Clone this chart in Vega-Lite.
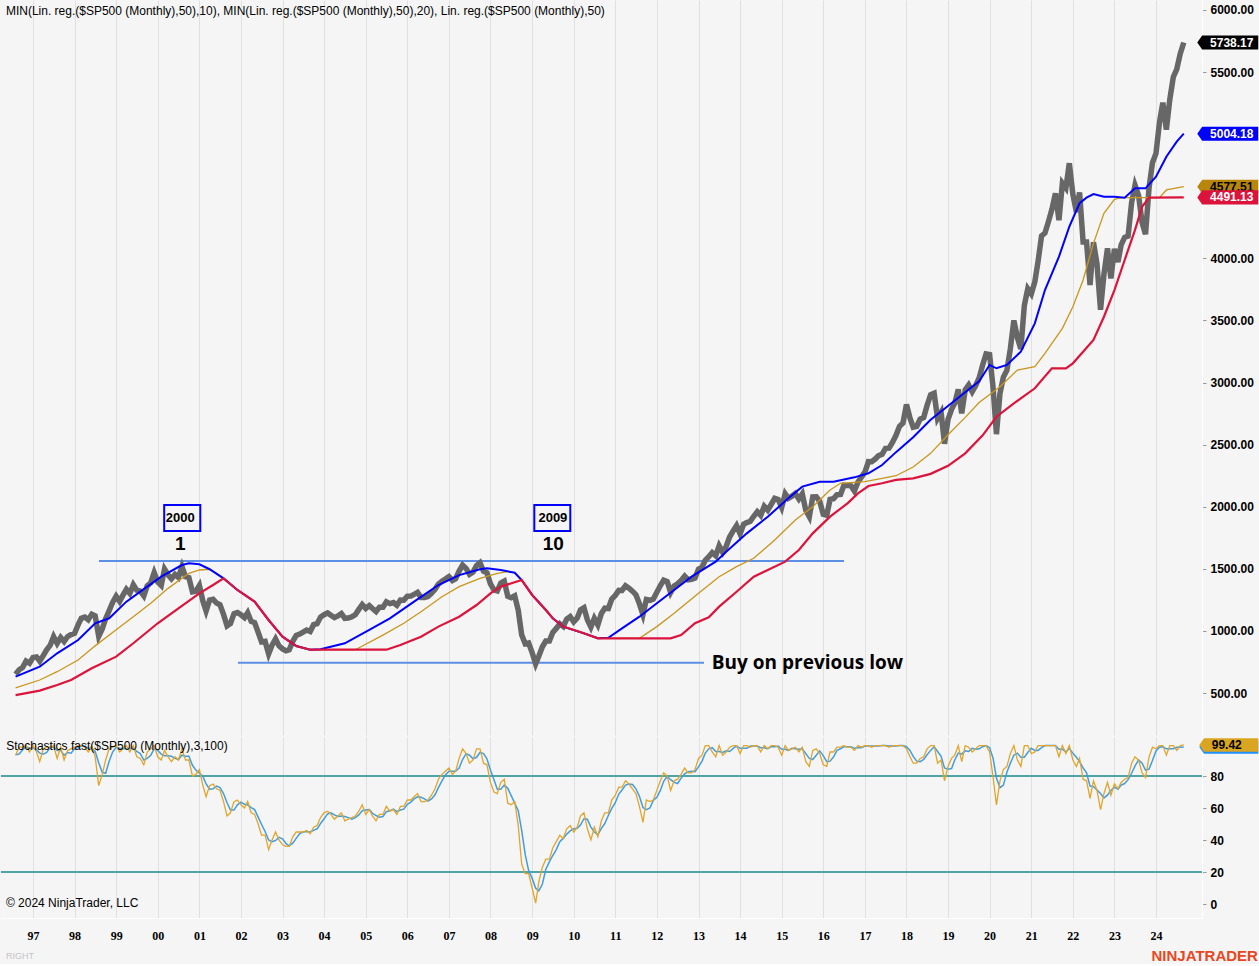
{
"$schema":"https://vega.github.io/schema/vega-lite/v6.json",
"background":"#f5f5f5",
"padding":0,
"spacing":2,
"config":{"view":{"stroke":null},"font":"Liberation Sans","axis":{"labelFont":"Liberation Sans"}},
"datasets":{
"m":[
{"d":"1996-08-01","p":651.99,"k":93,"s":93.3},{"d":"1996-09-01","p":687.33,"k":98,"s":93.7},{"d":"1996-10-01","p":705.27,"k":98,"s":96.3},{"d":"1996-11-01","p":757.02,"k":99,"s":98.3},{"d":"1996-12-01","p":740.74,"k":95,"s":97.3},
{"d":"1997-01-01","p":786.16,"k":99,"s":97.7},{"d":"1997-02-01","p":790.82,"k":95,"s":96.3},{"d":"1997-03-01","p":757.12,"k":89,"s":94.3},{"d":"1997-04-01","p":801.34,"k":97,"s":93.7},{"d":"1997-05-01","p":848.28,"k":98,"s":94.7},{"d":"1997-06-01","p":885.14,"k":98,"s":97.7},{"d":"1997-07-01","p":954.29,"k":99,"s":98.3},{"d":"1997-08-01","p":899.47,"k":91,"s":96},{"d":"1997-09-01","p":947.28,"k":98,"s":96},{"d":"1997-10-01","p":914.62,"k":90,"s":93},{"d":"1997-11-01","p":955.4,"k":96,"s":94.7},{"d":"1997-12-01","p":970.43,"k":97,"s":94.3},
{"d":"1998-01-01","p":980.28,"k":98,"s":97},{"d":"1998-02-01","p":1049.34,"k":99,"s":98},{"d":"1998-03-01","p":1101.75,"k":99,"s":98.7},{"d":"1998-04-01","p":1111.75,"k":98,"s":98.7},{"d":"1998-05-01","p":1090.82,"k":95,"s":97.3},{"d":"1998-06-01","p":1133.84,"k":99,"s":97.3},{"d":"1998-07-01","p":1120.67,"k":92,"s":95.3},{"d":"1998-08-01","p":957.28,"k":74,"s":88.3},{"d":"1998-09-01","p":1017.01,"k":81,"s":82.3},{"d":"1998-10-01","p":1098.67,"k":90,"s":81.7},{"d":"1998-11-01","p":1163.63,"k":97,"s":89.3},{"d":"1998-12-01","p":1229.23,"k":98,"s":95},
{"d":"1999-01-01","p":1279.64,"k":99,"s":98},{"d":"1999-02-01","p":1238.33,"k":95,"s":97.3},{"d":"1999-03-01","p":1286.37,"k":97,"s":97},{"d":"1999-04-01","p":1335.18,"k":99,"s":97},{"d":"1999-05-01","p":1301.84,"k":95,"s":97},{"d":"1999-06-01","p":1372.71,"k":99,"s":97.7},{"d":"1999-07-01","p":1328.72,"k":92,"s":95.3},{"d":"1999-08-01","p":1320.41,"k":91,"s":94},{"d":"1999-09-01","p":1282.71,"k":87,"s":90},{"d":"1999-10-01","p":1362.93,"k":95,"s":91},{"d":"1999-11-01","p":1388.91,"k":97,"s":93},{"d":"1999-12-01","p":1469.25,"k":99,"s":97},
{"d":"2000-01-01","p":1394.46,"k":92,"s":96},{"d":"2000-02-01","p":1366.42,"k":90,"s":93.7},{"d":"2000-03-01","p":1498.58,"k":96,"s":92.7},{"d":"2000-04-01","p":1452.43,"k":92,"s":92.7},{"d":"2000-05-01","p":1420.6,"k":89,"s":92.3},{"d":"2000-06-01","p":1454.6,"k":92,"s":91},{"d":"2000-07-01","p":1430.83,"k":90,"s":90.3},{"d":"2000-08-01","p":1517.68,"k":97,"s":93},{"d":"2000-09-01","p":1436.51,"k":90,"s":92.3},{"d":"2000-10-01","p":1429.4,"k":90,"s":92.3},{"d":"2000-11-01","p":1314.95,"k":80,"s":86.7},{"d":"2000-12-01","p":1320.28,"k":81,"s":83.7},
{"d":"2001-01-01","p":1366.01,"k":84,"s":81.7},{"d":"2001-02-01","p":1239.94,"k":74,"s":79.7},{"d":"2001-03-01","p":1160.33,"k":67,"s":75},{"d":"2001-04-01","p":1249.46,"k":74,"s":71.7},{"d":"2001-05-01","p":1255.82,"k":75,"s":72},{"d":"2001-06-01","p":1224.38,"k":72,"s":73.7},{"d":"2001-07-01","p":1211.23,"k":71,"s":72.7},{"d":"2001-08-01","p":1133.58,"k":64,"s":69},{"d":"2001-09-01","p":1040.94,"k":55,"s":63.3},{"d":"2001-10-01","p":1059.78,"k":57,"s":58.7},{"d":"2001-11-01","p":1139.45,"k":64,"s":58.7},{"d":"2001-12-01","p":1148.08,"k":65,"s":62},
{"d":"2002-01-01","p":1130.2,"k":62,"s":63.7},{"d":"2002-02-01","p":1106.73,"k":60,"s":62.3},{"d":"2002-03-01","p":1147.39,"k":64,"s":62},{"d":"2002-04-01","p":1076.92,"k":57,"s":60.3},{"d":"2002-05-01","p":1067.14,"k":56,"s":59},{"d":"2002-06-01","p":989.82,"k":50,"s":54.3},{"d":"2002-07-01","p":911.62,"k":43,"s":49.7},{"d":"2002-08-01","p":916.07,"k":43,"s":45.3},{"d":"2002-09-01","p":815.28,"k":34,"s":40},{"d":"2002-10-01","p":885.76,"k":40,"s":39},{"d":"2002-11-01","p":936.31,"k":45,"s":39.7},{"d":"2002-12-01","p":879.82,"k":40,"s":41.7},
{"d":"2003-01-01","p":855.7,"k":37,"s":40.7},{"d":"2003-02-01","p":841.15,"k":36,"s":37.7},{"d":"2003-03-01","p":848.18,"k":36,"s":36.3},{"d":"2003-04-01","p":916.92,"k":42,"s":38},{"d":"2003-05-01","p":963.59,"k":45,"s":41},{"d":"2003-06-01","p":974.5,"k":45,"s":44},{"d":"2003-07-01","p":990.31,"k":45,"s":45},{"d":"2003-08-01","p":1008.01,"k":46,"s":45.3},{"d":"2003-09-01","p":995.97,"k":44,"s":45},{"d":"2003-10-01","p":1050.71,"k":48,"s":46},{"d":"2003-11-01","p":1058.2,"k":49,"s":47},{"d":"2003-12-01","p":1111.92,"k":54,"s":50.3},
{"d":"2004-01-01","p":1131.13,"k":57,"s":53.3},{"d":"2004-02-01","p":1144.94,"k":58,"s":56.3},{"d":"2004-03-01","p":1126.21,"k":56,"s":57},{"d":"2004-04-01","p":1107.3,"k":53,"s":55.7},{"d":"2004-05-01","p":1120.68,"k":55,"s":54.7},{"d":"2004-06-01","p":1140.84,"k":57,"s":55},{"d":"2004-07-01","p":1101.72,"k":52,"s":54.7},{"d":"2004-08-01","p":1104.24,"k":53,"s":54},{"d":"2004-09-01","p":1114.58,"k":54,"s":53},{"d":"2004-10-01","p":1130.2,"k":55,"s":54},{"d":"2004-11-01","p":1173.82,"k":58,"s":55.7},{"d":"2004-12-01","p":1211.92,"k":62,"s":58.3},
{"d":"2005-01-01","p":1181.27,"k":56,"s":58.7},{"d":"2005-02-01","p":1203.6,"k":59,"s":59},{"d":"2005-03-01","p":1180.59,"k":55,"s":56.7},{"d":"2005-04-01","p":1156.85,"k":52,"s":55.3},{"d":"2005-05-01","p":1191.5,"k":56,"s":54.3},{"d":"2005-06-01","p":1191.33,"k":56,"s":54.7},{"d":"2005-07-01","p":1234.18,"k":61,"s":57.7},{"d":"2005-08-01","p":1220.33,"k":58,"s":58.3},{"d":"2005-09-01","p":1228.81,"k":59,"s":59.3},{"d":"2005-10-01","p":1207.01,"k":56,"s":57.7},{"d":"2005-11-01","p":1249.48,"k":61,"s":58.7},{"d":"2005-12-01","p":1248.29,"k":61,"s":59.3},
{"d":"2006-01-01","p":1280.08,"k":65,"s":62.3},{"d":"2006-02-01","p":1280.66,"k":65,"s":63.7},{"d":"2006-03-01","p":1294.83,"k":67,"s":65.7},{"d":"2006-04-01","p":1310.61,"k":69,"s":67},{"d":"2006-05-01","p":1270.09,"k":64,"s":66.7},{"d":"2006-06-01","p":1270.2,"k":64,"s":65.7},{"d":"2006-07-01","p":1276.66,"k":65,"s":64.3},{"d":"2006-08-01","p":1303.82,"k":68,"s":65.7},{"d":"2006-09-01","p":1335.85,"k":72,"s":68.3},{"d":"2006-10-01","p":1377.94,"k":78,"s":72.7},{"d":"2006-11-01","p":1400.63,"k":81,"s":77},{"d":"2006-12-01","p":1418.3,"k":83,"s":80.7},
{"d":"2007-01-01","p":1438.24,"k":85,"s":83},{"d":"2007-02-01","p":1406.82,"k":81,"s":83},{"d":"2007-03-01","p":1420.86,"k":83,"s":83},{"d":"2007-04-01","p":1482.37,"k":91,"s":85},{"d":"2007-05-01","p":1530.62,"k":97,"s":90.3},{"d":"2007-06-01","p":1503.35,"k":94,"s":94},{"d":"2007-07-01","p":1455.27,"k":88,"s":93},{"d":"2007-08-01","p":1473.99,"k":90,"s":90.7},{"d":"2007-09-01","p":1526.75,"k":97,"s":91.7},{"d":"2007-10-01","p":1549.38,"k":97,"s":94.7},{"d":"2007-11-01","p":1481.14,"k":88,"s":94},{"d":"2007-12-01","p":1468.36,"k":87,"s":90.7},
{"d":"2008-01-01","p":1378.55,"k":76,"s":83.7},{"d":"2008-02-01","p":1330.63,"k":70,"s":77.7},{"d":"2008-03-01","p":1322.7,"k":69,"s":71.7},{"d":"2008-04-01","p":1385.59,"k":76,"s":71.7},{"d":"2008-05-01","p":1400.38,"k":78,"s":74.3},{"d":"2008-06-01","p":1280,"k":63,"s":72.3},{"d":"2008-07-01","p":1267.38,"k":62,"s":67.7},{"d":"2008-08-01","p":1282.83,"k":64,"s":63},{"d":"2008-09-01","p":1166.36,"k":49,"s":58.3},{"d":"2008-10-01","p":968.75,"k":25,"s":46},{"d":"2008-11-01","p":896.24,"k":19,"s":31},{"d":"2008-12-01","p":903.25,"k":19,"s":21},
{"d":"2009-01-01","p":825.88,"k":10,"s":16},{"d":"2009-02-01","p":735.09,"k":0.5,"s":9.8},{"d":"2009-03-01","p":797.87,"k":14,"s":8.2},{"d":"2009-04-01","p":872.81,"k":23,"s":12.5},{"d":"2009-05-01","p":919.14,"k":28,"s":21.7},{"d":"2009-06-01","p":919.32,"k":28,"s":26.3},{"d":"2009-07-01","p":987.48,"k":35,"s":30.3},{"d":"2009-08-01","p":1020.62,"k":39,"s":34},{"d":"2009-09-01","p":1057.08,"k":43,"s":39},{"d":"2009-10-01","p":1036.19,"k":41,"s":41},{"d":"2009-11-01","p":1095.63,"k":47,"s":43.7},{"d":"2009-12-01","p":1115.1,"k":49,"s":45.7},
{"d":"2010-01-01","p":1073.87,"k":45,"s":47},{"d":"2010-02-01","p":1104.49,"k":48,"s":47.3},{"d":"2010-03-01","p":1169.43,"k":55,"s":49.3},{"d":"2010-04-01","p":1186.69,"k":57,"s":53.3},{"d":"2010-05-01","p":1089.41,"k":47,"s":53},{"d":"2010-06-01","p":1030.71,"k":40,"s":48},{"d":"2010-07-01","p":1101.6,"k":48,"s":45},{"d":"2010-08-01","p":1049.33,"k":42,"s":43.3},{"d":"2010-09-01","p":1141.2,"k":52,"s":47.3},{"d":"2010-10-01","p":1183.26,"k":57,"s":50.3},{"d":"2010-11-01","p":1180.55,"k":57,"s":55.3},{"d":"2010-12-01","p":1257.64,"k":65,"s":59.7},
{"d":"2011-01-01","p":1286.12,"k":68,"s":63.3},{"d":"2011-02-01","p":1327.22,"k":73,"s":68.7},{"d":"2011-03-01","p":1325.83,"k":73,"s":71.3},{"d":"2011-04-01","p":1363.61,"k":77,"s":74.3},{"d":"2011-05-01","p":1345.2,"k":75,"s":75},{"d":"2011-06-01","p":1320.64,"k":72,"s":74.7},{"d":"2011-07-01","p":1292.28,"k":69,"s":72},{"d":"2011-08-01","p":1218.89,"k":61,"s":67.3},{"d":"2011-09-01","p":1131.42,"k":51,"s":60.3},{"d":"2011-10-01","p":1253.3,"k":65,"s":59},{"d":"2011-11-01","p":1246.96,"k":64,"s":60},{"d":"2011-12-01","p":1257.6,"k":65,"s":64.7},
{"d":"2012-01-01","p":1312.41,"k":71,"s":66.7},{"d":"2012-02-01","p":1365.68,"k":77,"s":71},{"d":"2012-03-01","p":1408.47,"k":82,"s":76.7},{"d":"2012-04-01","p":1397.91,"k":80,"s":79.7},{"d":"2012-05-01","p":1310.33,"k":71,"s":77.7},{"d":"2012-06-01","p":1362.16,"k":77,"s":76},{"d":"2012-07-01","p":1379.32,"k":78,"s":75.3},{"d":"2012-08-01","p":1406.58,"k":81,"s":78.7},{"d":"2012-09-01","p":1440.67,"k":85,"s":81.3},{"d":"2012-10-01","p":1412.16,"k":82,"s":82.7},{"d":"2012-11-01","p":1416.18,"k":82,"s":83},{"d":"2012-12-01","p":1426.19,"k":84,"s":82.7},
{"d":"2013-01-01","p":1498.11,"k":91,"s":85.7},{"d":"2013-02-01","p":1514.68,"k":93,"s":89.3},{"d":"2013-03-01","p":1569.19,"k":99,"s":94.3},{"d":"2013-04-01","p":1597.57,"k":99,"s":97},{"d":"2013-05-01","p":1630.74,"k":95,"s":97.7},{"d":"2013-06-01","p":1606.28,"k":92,"s":95.3},{"d":"2013-07-01","p":1685.73,"k":99,"s":95.3},{"d":"2013-08-01","p":1632.97,"k":93,"s":94.7},{"d":"2013-09-01","p":1681.55,"k":95,"s":95.7},{"d":"2013-10-01","p":1756.54,"k":98,"s":95.3},{"d":"2013-11-01","p":1805.81,"k":99,"s":97.3},{"d":"2013-12-01","p":1848.36,"k":99,"s":98.7},
{"d":"2014-01-01","p":1782.59,"k":94,"s":97.3},{"d":"2014-02-01","p":1859.45,"k":99,"s":97.3},{"d":"2014-03-01","p":1872.34,"k":99,"s":97.3},{"d":"2014-04-01","p":1883.95,"k":98,"s":98.7},{"d":"2014-05-01","p":1923.57,"k":99,"s":98.7},{"d":"2014-06-01","p":1960.23,"k":99,"s":98.7},{"d":"2014-07-01","p":1930.67,"k":95,"s":97.7},{"d":"2014-08-01","p":2003.37,"k":99,"s":97.7},{"d":"2014-09-01","p":1972.29,"k":97,"s":97},{"d":"2014-10-01","p":2018.05,"k":99,"s":98.3},{"d":"2014-11-01","p":2067.56,"k":99,"s":98.3},{"d":"2014-12-01","p":2058.9,"k":98,"s":98.7},
{"d":"2015-01-01","p":1994.99,"k":93,"s":96.7},{"d":"2015-02-01","p":2104.5,"k":99,"s":96.7},{"d":"2015-03-01","p":2067.89,"k":96,"s":96},{"d":"2015-04-01","p":2085.51,"k":97,"s":97.3},{"d":"2015-05-01","p":2107.39,"k":98,"s":97},{"d":"2015-06-01","p":2063.11,"k":95,"s":96.7},{"d":"2015-07-01","p":2103.84,"k":98,"s":97},{"d":"2015-08-01","p":1972.18,"k":89,"s":94},{"d":"2015-09-01","p":1920.03,"k":86,"s":91},{"d":"2015-10-01","p":2079.36,"k":96,"s":90.3},{"d":"2015-11-01","p":2080.41,"k":97,"s":93},{"d":"2015-12-01","p":2043.94,"k":94,"s":95.7},
{"d":"2016-01-01","p":1940.24,"k":87,"s":92.7},{"d":"2016-02-01","p":1932.23,"k":86,"s":89},{"d":"2016-03-01","p":2059.74,"k":95,"s":89.3},{"d":"2016-04-01","p":2065.3,"k":95,"s":92},{"d":"2016-05-01","p":2096.95,"k":98,"s":96},{"d":"2016-06-01","p":2098.86,"k":98,"s":97},{"d":"2016-07-01","p":2173.6,"k":99,"s":98.3},{"d":"2016-08-01","p":2170.95,"k":98,"s":98.3},{"d":"2016-09-01","p":2168.27,"k":98,"s":98.3},{"d":"2016-10-01","p":2126.15,"k":96,"s":97.3},{"d":"2016-11-01","p":2198.81,"k":99,"s":97.7},{"d":"2016-12-01","p":2238.83,"k":98,"s":97.7},
{"d":"2017-01-01","p":2278.87,"k":99,"s":98.7},{"d":"2017-02-01","p":2363.64,"k":99,"s":98.7},{"d":"2017-03-01","p":2362.72,"k":98,"s":98.7},{"d":"2017-04-01","p":2384.2,"k":99,"s":98.7},{"d":"2017-05-01","p":2411.8,"k":99,"s":98.7},{"d":"2017-06-01","p":2423.41,"k":99,"s":99},{"d":"2017-07-01","p":2470.3,"k":99,"s":99},{"d":"2017-08-01","p":2471.65,"k":98,"s":98.7},{"d":"2017-09-01","p":2519.36,"k":99,"s":98.7},{"d":"2017-10-01","p":2575.26,"k":99,"s":98.7},{"d":"2017-11-01","p":2647.58,"k":99,"s":99},{"d":"2017-12-01","p":2673.61,"k":99,"s":99},
{"d":"2018-01-01","p":2823.81,"k":97,"s":98.3},{"d":"2018-02-01","p":2713.83,"k":92,"s":96},{"d":"2018-03-01","p":2640.87,"k":88,"s":92.3},{"d":"2018-04-01","p":2648.05,"k":88,"s":89.3},{"d":"2018-05-01","p":2705.27,"k":91,"s":89},{"d":"2018-06-01","p":2718.37,"k":92,"s":90.3},{"d":"2018-07-01","p":2816.29,"k":97,"s":93.3},{"d":"2018-08-01","p":2901.52,"k":99,"s":96},{"d":"2018-09-01","p":2913.98,"k":99,"s":98.3},{"d":"2018-10-01","p":2711.74,"k":88,"s":95.3},{"d":"2018-11-01","p":2760.17,"k":90,"s":92.3},{"d":"2018-12-01","p":2506.85,"k":77,"s":85},
{"d":"2019-01-01","p":2704.1,"k":86,"s":84.3},{"d":"2019-02-01","p":2784.49,"k":91,"s":84.7},{"d":"2019-03-01","p":2834.4,"k":93,"s":90},{"d":"2019-04-01","p":2945.83,"k":99,"s":94.3},{"d":"2019-05-01","p":2752.06,"k":89,"s":93.7},{"d":"2019-06-01","p":2941.76,"k":99,"s":95.7},{"d":"2019-07-01","p":2980.38,"k":98,"s":95.3},{"d":"2019-08-01","p":2926.46,"k":95,"s":97.3},{"d":"2019-09-01","p":2976.74,"k":97,"s":96.7},{"d":"2019-10-01","p":3037.56,"k":99,"s":97},{"d":"2019-11-01","p":3140.98,"k":99,"s":98.3},{"d":"2019-12-01","p":3230.78,"k":99,"s":99},
{"d":"2020-01-01","p":3225.52,"k":95,"s":97.7},{"d":"2020-02-01","p":2954.22,"k":79,"s":91},{"d":"2020-03-01","p":2584.59,"k":62,"s":78.7},{"d":"2020-04-01","p":2912.43,"k":77,"s":72.7},{"d":"2020-05-01","p":3044.31,"k":84,"s":74.3},{"d":"2020-06-01","p":3100.29,"k":86,"s":82.3},{"d":"2020-07-01","p":3271.12,"k":94,"s":88},{"d":"2020-08-01","p":3500.31,"k":99,"s":93},{"d":"2020-09-01","p":3363,"k":90,"s":94.3},{"d":"2020-10-01","p":3269.96,"k":86,"s":91.7},{"d":"2020-11-01","p":3621.63,"k":99,"s":91.7},{"d":"2020-12-01","p":3756.07,"k":99,"s":94.7},
{"d":"2021-01-01","p":3714.24,"k":94,"s":97.3},{"d":"2021-02-01","p":3811.15,"k":95,"s":96},{"d":"2021-03-01","p":3972.89,"k":99,"s":96},{"d":"2021-04-01","p":4181.17,"k":99,"s":97.7},{"d":"2021-05-01","p":4204.11,"k":99,"s":99},{"d":"2021-06-01","p":4297.5,"k":99,"s":99},{"d":"2021-07-01","p":4395.26,"k":99,"s":99},{"d":"2021-08-01","p":4522.68,"k":99,"s":99},{"d":"2021-09-01","p":4307.54,"k":92,"s":96.7},{"d":"2021-10-01","p":4605.38,"k":99,"s":96.7},{"d":"2021-11-01","p":4567,"k":94,"s":95},{"d":"2021-12-01","p":4766.18,"k":99,"s":97.3},
{"d":"2022-01-01","p":4515.55,"k":90,"s":94.3},{"d":"2022-02-01","p":4373.94,"k":86,"s":91.7},{"d":"2022-03-01","p":4530.41,"k":91,"s":89},{"d":"2022-04-01","p":4131.93,"k":78,"s":85},{"d":"2022-05-01","p":4132.15,"k":77,"s":82},{"d":"2022-06-01","p":3785.38,"k":66,"s":73.7},{"d":"2022-07-01","p":4130.29,"k":77,"s":73.3},{"d":"2022-08-01","p":3955,"k":71,"s":71.3},{"d":"2022-09-01","p":3585.62,"k":59,"s":69},{"d":"2022-10-01","p":3871.98,"k":69,"s":66.3},{"d":"2022-11-01","p":4080.11,"k":76,"s":68},{"d":"2022-12-01","p":3839.5,"k":68,"s":71},
{"d":"2023-01-01","p":4076.6,"k":75,"s":73},{"d":"2023-02-01","p":3970.15,"k":72,"s":71.7},{"d":"2023-03-01","p":4109.31,"k":76,"s":74.3},{"d":"2023-04-01","p":4169.48,"k":78,"s":75.3},{"d":"2023-05-01","p":4179.83,"k":79,"s":77.7},{"d":"2023-06-01","p":4450.38,"k":88,"s":81.7},{"d":"2023-07-01","p":4588.96,"k":92,"s":86.3},{"d":"2023-08-01","p":4507.66,"k":90,"s":90},{"d":"2023-09-01","p":4288.05,"k":82,"s":88},{"d":"2023-10-01","p":4193.8,"k":79,"s":83.7},{"d":"2023-11-01","p":4567.8,"k":92,"s":84.3},{"d":"2023-12-01","p":4769.83,"k":98,"s":89.7},
{"d":"2024-01-01","p":4845.65,"k":97,"s":95.7},{"d":"2024-02-01","p":5096.27,"k":99,"s":98},{"d":"2024-03-01","p":5254.35,"k":99,"s":98.3},{"d":"2024-04-01","p":5035.69,"k":93,"s":97},{"d":"2024-05-01","p":5277.51,"k":99,"s":97},{"d":"2024-06-01","p":5460.48,"k":99,"s":97},{"d":"2024-07-01","p":5522.3,"k":96,"s":98},{"d":"2024-08-01","p":5648.4,"k":99,"s":98},{"d":"2024-09-01","p":5738.17,"k":99.42,"s":98.1}
],
"blue":[
{"d":"1996-08-01","v":632},{"d":"1997-03-01","v":712},{"d":"1997-08-01","v":820},{"d":"1998-02-01","v":927},{"d":"1998-07-01","v":1062},{"d":"1998-11-01","v":1102},{"d":"1999-04-01","v":1236},{"d":"1999-10-01","v":1357},{"d":"2000-02-01","v":1437},{"d":"2000-08-01","v":1531},{"d":"2000-10-01","v":1545},{"d":"2001-01-01","v":1537},{"d":"2001-04-01","v":1497},{"d":"2001-08-01","v":1424},{"d":"2001-12-01","v":1330},{"d":"2002-05-01","v":1236},{"d":"2002-09-01","v":1088},{"d":"2003-01-01","v":954},{"d":"2003-05-01","v":879},{"d":"2003-09-01","v":849},{"d":"2003-12-01","v":852},{"d":"2004-07-01","v":901},{"d":"2005-02-01","v":1008},{"d":"2005-08-01","v":1102},{"d":"2006-03-01","v":1236},{"d":"2006-10-01","v":1370},{"d":"2007-04-01","v":1450},{"d":"2007-10-01","v":1497},{"d":"2007-12-01","v":1504},{"d":"2008-04-01","v":1491},{"d":"2008-08-01","v":1469},{"d":"2008-10-01","v":1410},{"d":"2009-01-01","v":1290},{"d":"2009-05-01","v":1169},{"d":"2009-07-01","v":1102},{"d":"2009-10-01","v":1035},{"d":"2010-04-01","v":981},{"d":"2010-08-01","v":941},{"d":"2010-11-01","v":945},{"d":"2011-03-01","v":1021},{"d":"2011-08-01","v":1115},{"d":"2012-01-01","v":1223},{"d":"2012-06-01","v":1330},{"d":"2012-11-01","v":1437},{"d":"2013-06-01","v":1558},{"d":"2013-09-01","v":1638},{"d":"2014-03-01","v":1786},{"d":"2014-09-01","v":1920},{"d":"2015-03-01","v":2068},{"d":"2015-07-01","v":2162},{"d":"2015-12-01","v":2202},{"d":"2016-04-01","v":2202},{"d":"2016-10-01","v":2237},{"d":"2017-02-01","v":2270},{"d":"2017-06-01","v":2336},{"d":"2017-10-01","v":2440},{"d":"2018-03-01","v":2560},{"d":"2018-08-01","v":2700},{"d":"2018-12-01","v":2790},{"d":"2019-05-01","v":2900},{"d":"2019-10-01","v":3010},{"d":"2020-01-01","v":3142},{"d":"2020-03-01","v":3115},{"d":"2020-06-01","v":3142},{"d":"2020-10-01","v":3249},{"d":"2021-02-01","v":3477},{"d":"2021-05-01","v":3745},{"d":"2021-09-01","v":4014},{"d":"2021-12-01","v":4255},{"d":"2022-03-01","v":4444},{"d":"2022-05-01","v":4489},{"d":"2022-07-01","v":4518},{"d":"2022-10-01","v":4497},{"d":"2023-01-01","v":4497},{"d":"2023-04-01","v":4489},{"d":"2023-07-01","v":4564},{"d":"2023-10-01","v":4564},{"d":"2024-01-01","v":4658},{"d":"2024-04-01","v":4819},{"d":"2024-07-01","v":4940},{"d":"2024-09-01","v":5004.18}
],
"gold":[
{"d":"1996-08-01","v":541},{"d":"1997-03-01","v":605},{"d":"1997-08-01","v":672},{"d":"1998-02-01","v":766},{"d":"1998-07-01","v":880},{"d":"1999-01-01","v":1010},{"d":"1999-06-01","v":1115},{"d":"1999-11-01","v":1223},{"d":"2000-04-01","v":1343},{"d":"2000-10-01","v":1464},{"d":"2001-01-01","v":1491},{"d":"2001-04-01","v":1497},{"d":"2001-08-01","v":1424},{"d":"2001-12-01","v":1330},{"d":"2002-05-01","v":1236},{"d":"2002-09-01","v":1088},{"d":"2003-01-01","v":954},{"d":"2003-05-01","v":879},{"d":"2003-09-01","v":849},{"d":"2004-10-01","v":849},{"d":"2005-06-01","v":967},{"d":"2005-12-01","v":1062},{"d":"2006-05-01","v":1155},{"d":"2006-11-01","v":1276},{"d":"2007-04-01","v":1357},{"d":"2007-10-01","v":1424},{"d":"2008-03-01","v":1464},{"d":"2008-06-01","v":1478},{"d":"2008-08-01","v":1469},{"d":"2008-10-01","v":1410},{"d":"2009-01-01","v":1290},{"d":"2009-05-01","v":1169},{"d":"2009-07-01","v":1102},{"d":"2009-10-01","v":1035},{"d":"2010-04-01","v":981},{"d":"2010-08-01","v":941},{"d":"2011-08-01","v":941},{"d":"2012-01-01","v":1035},{"d":"2012-06-01","v":1142},{"d":"2013-01-01","v":1303},{"d":"2013-07-01","v":1437},{"d":"2013-12-01","v":1518},{"d":"2014-05-01","v":1585},{"d":"2014-11-01","v":1732},{"d":"2015-05-01","v":1893},{"d":"2015-10-01","v":2001},{"d":"2016-03-01","v":2135},{"d":"2016-06-01","v":2189},{"d":"2017-01-01","v":2202},{"d":"2017-06-01","v":2229},{"d":"2017-10-01","v":2250},{"d":"2018-03-01","v":2320},{"d":"2018-08-01","v":2430},{"d":"2019-01-01","v":2580},{"d":"2019-06-01","v":2720},{"d":"2019-10-01","v":2840},{"d":"2020-04-01","v":2967},{"d":"2020-09-01","v":3101},{"d":"2021-02-01","v":3128},{"d":"2021-05-01","v":3236},{"d":"2021-10-01","v":3437},{"d":"2022-01-01","v":3611},{"d":"2022-04-01","v":3826},{"d":"2022-07-01","v":4121},{"d":"2022-10-01","v":4363},{"d":"2023-01-01","v":4476},{"d":"2023-03-01","v":4489},{"d":"2024-02-01","v":4489},{"d":"2024-04-01","v":4551},{"d":"2024-09-01","v":4577.51}
],
"red":[
{"d":"1996-08-01","v":484},{"d":"1997-03-01","v":520},{"d":"1997-08-01","v":565},{"d":"1997-12-01","v":605},{"d":"1998-06-01","v":699},{"d":"1999-01-01","v":793},{"d":"1999-06-01","v":901},{"d":"2000-01-01","v":1062},{"d":"2000-07-01","v":1182},{"d":"2001-01-01","v":1303},{"d":"2001-05-01","v":1370},{"d":"2001-08-01","v":1424},{"d":"2001-12-01","v":1330},{"d":"2002-05-01","v":1236},{"d":"2002-09-01","v":1088},{"d":"2003-01-01","v":954},{"d":"2003-05-01","v":879},{"d":"2003-09-01","v":849},{"d":"2005-07-01","v":849},{"d":"2005-11-01","v":887},{"d":"2006-05-01","v":954},{"d":"2006-10-01","v":1035},{"d":"2007-04-01","v":1115},{"d":"2007-09-01","v":1209},{"d":"2008-01-01","v":1303},{"d":"2008-04-01","v":1357},{"d":"2008-10-01","v":1410},{"d":"2009-01-01","v":1290},{"d":"2009-05-01","v":1169},{"d":"2009-07-01","v":1102},{"d":"2009-10-01","v":1035},{"d":"2010-04-01","v":981},{"d":"2010-08-01","v":941},{"d":"2012-05-01","v":941},{"d":"2012-08-01","v":967},{"d":"2012-12-01","v":1062},{"d":"2013-04-01","v":1110},{"d":"2013-07-01","v":1196},{"d":"2013-12-01","v":1316},{"d":"2014-05-01","v":1437},{"d":"2014-09-01","v":1491},{"d":"2015-02-01","v":1558},{"d":"2015-06-01","v":1652},{"d":"2015-10-01","v":1786},{"d":"2016-03-01","v":1920},{"d":"2016-08-01","v":2028},{"d":"2016-11-01","v":2108},{"d":"2017-02-01","v":2167},{"d":"2017-06-01","v":2189},{"d":"2017-10-01","v":2216},{"d":"2018-03-01","v":2229},{"d":"2018-08-01","v":2265},{"d":"2019-01-01","v":2330},{"d":"2019-06-01","v":2430},{"d":"2019-11-01","v":2575},{"d":"2020-03-01","v":2725},{"d":"2020-08-01","v":2833},{"d":"2021-02-01","v":2954},{"d":"2021-07-01","v":3115},{"d":"2021-11-01","v":3115},{"d":"2022-01-01","v":3155},{"d":"2022-04-01","v":3249},{"d":"2022-07-01","v":3343},{"d":"2022-10-01","v":3530},{"d":"2023-01-01","v":3745},{"d":"2023-04-01","v":3987},{"d":"2023-07-01","v":4229},{"d":"2023-09-01","v":4416},{"d":"2023-11-01","v":4489},{"d":"2024-09-01","v":4491.13}
],
"ptags":[
{"d":"2024-09-01","v":5738.17,"t":"5738.17","c":"price"},{"d":"2024-09-01","v":5004.18,"t":"5004.18","c":"blue"},{"d":"2024-09-01","v":4577.51,"t":"4577.51","c":"gold"},{"d":"2024-09-01","v":4491.13,"t":"4491.13","c":"red"}
]
},
"vconcat":[
{
"width":1201,"height":735,
"resolve":{"scale":{"color":"independent"}},
"layer":[
{"data":{"values":[{"d1":"1998-08-03","d2":"2016-07-01","v":1563},{"d1":"2001-12-06","d2":"2013-02-18","v":745}]},
 "mark":{"type":"rule","color":"#5b8ee6","strokeWidth":2},
 "encoding":{
  "x":{"field":"d1","type":"temporal","scale":{"domain":[{"year":1996,"month":3,"date":26},{"year":2025,"month":2,"date":8}]},"axis":{"grid":true,"gridColor":"#e0e0e0","labels":false,"ticks":false,"domain":false,"title":null,"values":[{"year":1997,"month":1,"date":1},{"year":1998,"month":1,"date":1},{"year":1999,"month":1,"date":1},{"year":2000,"month":1,"date":1},{"year":2001,"month":1,"date":1},{"year":2002,"month":1,"date":1},{"year":2003,"month":1,"date":1},{"year":2004,"month":1,"date":1},{"year":2005,"month":1,"date":1},{"year":2006,"month":1,"date":1},{"year":2007,"month":1,"date":1},{"year":2008,"month":1,"date":1},{"year":2009,"month":1,"date":1},{"year":2010,"month":1,"date":1},{"year":2011,"month":1,"date":1},{"year":2012,"month":1,"date":1},{"year":2013,"month":1,"date":1},{"year":2014,"month":1,"date":1},{"year":2015,"month":1,"date":1},{"year":2016,"month":1,"date":1},{"year":2017,"month":1,"date":1},{"year":2018,"month":1,"date":1},{"year":2019,"month":1,"date":1},{"year":2020,"month":1,"date":1},{"year":2021,"month":1,"date":1},{"year":2022,"month":1,"date":1},{"year":2023,"month":1,"date":1},{"year":2024,"month":1,"date":1}]}},
  "x2":{"field":"d2"},
  "y":{"field":"v","type":"quantitative","scale":{"domain":[162.3,6080.5],"nice":false,"zero":false},"axis":{"orient":"right","title":null,"values":[500,1000,1500,2000,2500,3000,3500,4000,4500,5000,5500,6000],"format":".2f","labelFontSize":12,"labelFontWeight":"bold","labelColor":"#000","tickColor":"#9a9a9a","tickSize":4,"labelPadding":4,"domainColor":"#ffffff","grid":false}}}},
{"data":{"name":"m"},"mark":{"type":"line","color":"#676767","strokeWidth":5.5,"strokeJoin":"miter"},
 "encoding":{"x":{"field":"d","type":"temporal"},"y":{"field":"p","type":"quantitative"}}},
{"data":{"name":"gold"},"mark":{"type":"line","color":"#c9961c","strokeWidth":1.3},
 "encoding":{"x":{"field":"d","type":"temporal"},"y":{"field":"v","type":"quantitative"}}},
{"data":{"name":"blue"},"mark":{"type":"line","color":"#0000ff","strokeWidth":2},
 "encoding":{"x":{"field":"d","type":"temporal"},"y":{"field":"v","type":"quantitative"}}},
{"data":{"name":"red"},"mark":{"type":"line","color":"#dc143c","strokeWidth":2.2},
 "encoding":{"x":{"field":"d","type":"temporal"},"y":{"field":"v","type":"quantitative"}}},
{"data":{"values":[{"d1":"2000-02-27","d2":"2001-01-09","v1":1805,"v2":2014},{"d1":"2009-01-20","d2":"2009-12-02","v1":1805,"v2":2014}]},
 "mark":{"type":"rect","fillOpacity":0,"fill":"#ffffff","stroke":"#0000ff","strokeWidth":2},
 "encoding":{"x":{"field":"d1","type":"temporal"},"x2":{"field":"d2"},"y":{"field":"v1","type":"quantitative"},"y2":{"field":"v2"}}},
{"data":{"values":[{"d":"2000-07-17","v":1907,"t":"2000"},{"d":"2009-07-02","v":1907,"t":"2009"}]},
 "mark":{"type":"text","font":"Liberation Sans","fontSize":13,"fontWeight":"bold","color":"#000","align":"center","baseline":"middle"},
 "encoding":{"x":{"field":"d","type":"temporal"},"y":{"field":"v","type":"quantitative"},"text":{"field":"t"}}},
{"data":{"values":[{"d":"2000-07-17","v":1698,"t":"1"},{"d":"2009-07-05","v":1698,"t":"10"}]},
 "mark":{"type":"text","font":"Liberation Sans","fontSize":19,"fontWeight":"bold","color":"#000","align":"center","baseline":"middle"},
 "encoding":{"x":{"field":"d","type":"temporal"},"y":{"field":"v","type":"quantitative"},"text":{"field":"t"}}},
{"data":{"values":[{"d":"2013-04-28","v":745,"t":"Buy on previous low"}]},
 "mark":{"type":"text","font":"Open Sans","fontSize":19,"fontWeight":"bold","color":"#000","align":"left","baseline":"middle"},
 "encoding":{"x":{"field":"d","type":"temporal"},"y":{"field":"v","type":"quantitative"},"text":{"field":"t"}}},
{"data":{"values":[{"d":"1996-05-08","v":5992,"t":"MIN(Lin. reg.($SP500 (Monthly),50),10), MIN(Lin. reg.($SP500 (Monthly),50),20), Lin. reg.($SP500 (Monthly),50)"}]},
 "mark":{"type":"text","font":"Liberation Sans","fontSize":12,"color":"#000","align":"left","baseline":"middle"},
 "encoding":{"x":{"field":"d","type":"temporal"},"y":{"field":"v","type":"quantitative"},"text":{"field":"t"}}},
{"data":{"name":"ptags"},"transform":[{"filter":"datum.c != 'red'"}],
 "mark":{"type":"point","shape":"M-1,0L-0.84,-0.23L1,-0.23L1,0.23L-0.84,0.23Z","size":3721,"filled":true,"opacity":1,"strokeWidth":0,"xOffset":44},
 "encoding":{"x":{"field":"d","type":"temporal"},"y":{"field":"v","type":"quantitative"},"color":{"field":"c","type":"nominal","scale":{"domain":["price","blue","gold","red"],"range":["#000000","#0000ff","#b8860b","#dc143c"]},"legend":null}}},
{"data":{"name":"ptags"},"transform":[{"filter":"datum.c == 'price' || datum.c == 'blue'"}],
 "mark":{"type":"text","font":"Liberation Sans","fontSize":12,"fontWeight":"bold","align":"center","baseline":"middle","dx":48,"color":"#ffffff"},
 "encoding":{"x":{"field":"d","type":"temporal"},"y":{"field":"v","type":"quantitative"},"text":{"field":"t"}}},
{"data":{"name":"ptags"},"transform":[{"filter":"datum.c == 'gold'"}],
 "mark":{"type":"text","font":"Liberation Sans","fontSize":12,"fontWeight":"bold","align":"center","baseline":"middle","dx":48,"color":"#000000"},
 "encoding":{"x":{"field":"d","type":"temporal"},"y":{"field":"v","type":"quantitative"},"text":{"field":"t"}}},
{"data":{"name":"ptags"},"transform":[{"filter":"datum.c == 'red'"}],
 "mark":{"type":"point","shape":"M-1,0L-0.84,-0.23L1,-0.23L1,0.23L-0.84,0.23Z","size":3721,"filled":true,"opacity":1,"strokeWidth":0,"xOffset":44,"color":"#dc143c"},
 "encoding":{"x":{"field":"d","type":"temporal"},"y":{"field":"v","type":"quantitative"}}},
{"data":{"name":"ptags"},"transform":[{"filter":"datum.c == 'red'"}],
 "mark":{"type":"text","font":"Liberation Sans","fontSize":12,"fontWeight":"bold","align":"center","baseline":"middle","dx":48,"color":"#ffffff"},
 "encoding":{"x":{"field":"d","type":"temporal"},"y":{"field":"v","type":"quantitative"},"text":{"field":"t"}}}
]
},
{
"width":1201,"height":181,
"layer":[
{"data":{"values":[{"v":80},{"v":20}]},"mark":{"type":"rule","color":"#16898b","strokeWidth":1.5},
 "encoding":{"y":{"field":"v","type":"quantitative","scale":{"domain":[-8.75,104.375],"nice":false,"zero":false},"axis":{"orient":"right","title":null,"values":[0,20,40,60,80],"format":"d","labelFontSize":12,"labelFontWeight":"bold","labelColor":"#000","tickColor":"#9a9a9a","tickSize":4,"labelPadding":4,"domainColor":"#ffffff","grid":false}}}},
{"data":{"name":"m"},"mark":{"type":"line","color":"#3f9de6","strokeWidth":1.5},
 "encoding":{"x":{"field":"d","type":"temporal","scale":{"domain":[{"year":1996,"month":3,"date":26},{"year":2025,"month":2,"date":8}]},"axis":{"grid":true,"gridColor":"#e0e0e0","format":"%y","labelFont":"Liberation Sans Narrow","labelFontSize":12,"labelFontWeight":"bold","labelColor":"#000","ticks":false,"domain":true,"domainColor":"#ffffff","labelPadding":12,"labelOverlap":false,"labelFlush":false,"title":null,"values":[{"year":1997,"month":1,"date":1},{"year":1998,"month":1,"date":1},{"year":1999,"month":1,"date":1},{"year":2000,"month":1,"date":1},{"year":2001,"month":1,"date":1},{"year":2002,"month":1,"date":1},{"year":2003,"month":1,"date":1},{"year":2004,"month":1,"date":1},{"year":2005,"month":1,"date":1},{"year":2006,"month":1,"date":1},{"year":2007,"month":1,"date":1},{"year":2008,"month":1,"date":1},{"year":2009,"month":1,"date":1},{"year":2010,"month":1,"date":1},{"year":2011,"month":1,"date":1},{"year":2012,"month":1,"date":1},{"year":2013,"month":1,"date":1},{"year":2014,"month":1,"date":1},{"year":2015,"month":1,"date":1},{"year":2016,"month":1,"date":1},{"year":2017,"month":1,"date":1},{"year":2018,"month":1,"date":1},{"year":2019,"month":1,"date":1},{"year":2020,"month":1,"date":1},{"year":2021,"month":1,"date":1},{"year":2022,"month":1,"date":1},{"year":2023,"month":1,"date":1},{"year":2024,"month":1,"date":1}]}},"y":{"field":"s","type":"quantitative"}}},
{"data":{"name":"m"},"mark":{"type":"line","color":"#e2a52a","strokeWidth":1.3},
 "encoding":{"x":{"field":"d","type":"temporal"},"y":{"field":"k","type":"quantitative"}}},
{"data":{"values":[{"d":"1996-05-11","v":98.75,"t":"Stochastics fast($SP500 (Monthly),3,100)"},{"d":"1996-05-08","v":0.6,"t":"© 2024 NinjaTrader, LLC"}]},
 "mark":{"type":"text","font":"Liberation Sans","fontSize":12,"color":"#000","align":"left","baseline":"middle"},
 "encoding":{"x":{"field":"d","type":"temporal"},"y":{"field":"v","type":"quantitative"},"text":{"field":"t"}}},
{"data":{"values":[{"d":"1996-05-08","v":-32.5,"t":"RIGHT"}]},
 "mark":{"type":"text","font":"Liberation Sans","fontSize":9,"color":"#c4c4c4","align":"left","baseline":"middle"},
 "encoding":{"x":{"field":"d","type":"temporal"},"y":{"field":"v","type":"quantitative"},"text":{"field":"t"}}},
{"data":{"values":[{"d":"2026-06-14","v":-32.5,"t":"NINJATRADER"}]},
 "mark":{"type":"text","font":"Liberation Sans","fontSize":15,"fontWeight":"bold","color":"#e8471f","align":"right","baseline":"middle"},
 "encoding":{"x":{"field":"d","type":"temporal"},"y":{"field":"v","type":"quantitative"},"text":{"field":"t"}}},
{"data":{"values":[{"d":"2024-09-01","v":98.1}]},
 "mark":{"type":"point","shape":"M-1,0L-0.84,-0.23L1,-0.23L1,0.23L-0.84,0.23Z","size":3481,"filled":true,"opacity":1,"strokeWidth":0,"xOffset":45,"color":"#1e90ff"},
 "encoding":{"x":{"field":"d","type":"temporal"},"y":{"field":"v","type":"quantitative"}}},
{"data":{"values":[{"d":"2024-09-01","v":99.42,"t":"99.42"}]},
 "mark":{"type":"point","shape":"M-1,0L-0.84,-0.23L1,-0.23L1,0.23L-0.84,0.23Z","size":3481,"filled":true,"opacity":1,"strokeWidth":0,"xOffset":45,"color":"#daa520"},
 "encoding":{"x":{"field":"d","type":"temporal"},"y":{"field":"v","type":"quantitative"}}},
{"data":{"values":[{"d":"2024-09-01","v":99.42,"t":"99.42"}]},
 "mark":{"type":"text","font":"Liberation Sans","fontSize":12,"fontWeight":"bold","align":"center","baseline":"middle","dx":43,"color":"#000000"},
 "encoding":{"x":{"field":"d","type":"temporal"},"y":{"field":"v","type":"quantitative"},"text":{"field":"t"}}}
]
}
]
}
